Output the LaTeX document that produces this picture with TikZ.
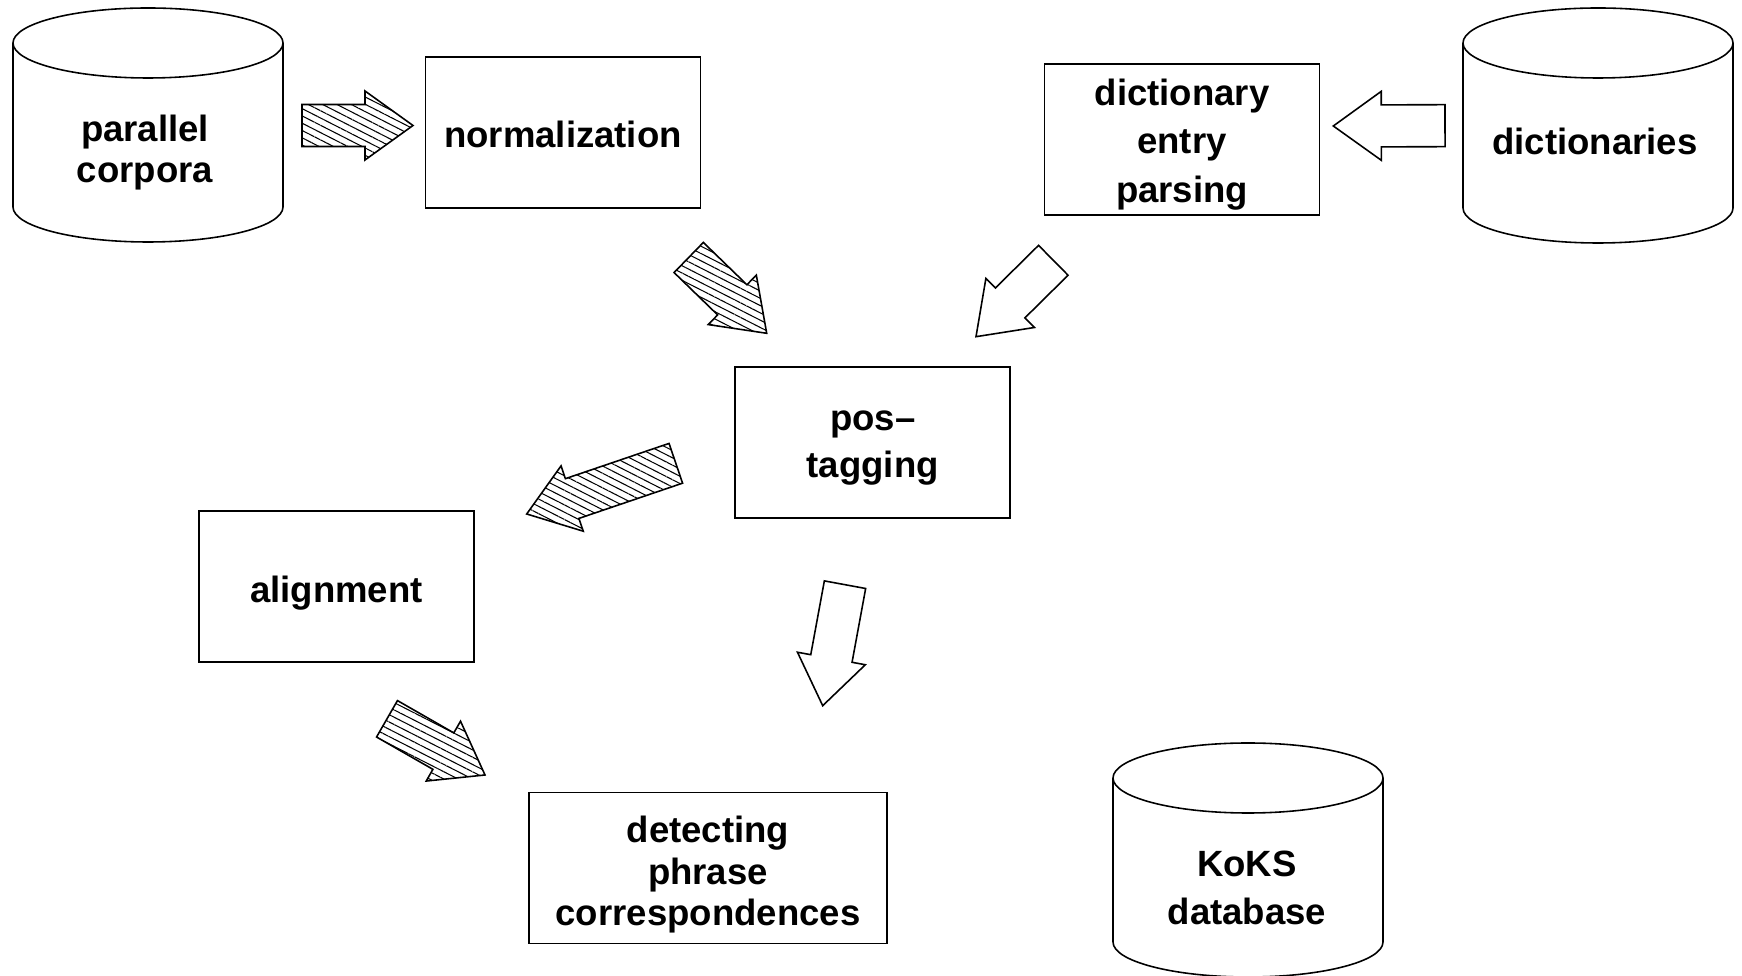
\documentclass[tikz,border=0pt]{standalone}
\usepackage{fontspec}
\setmainfont{Liberation Sans}
\usetikzlibrary{calc,patterns.meta}

\tikzset{
  stage/.style={draw, line width=0.45pt, minimum width=27.5mm, minimum height=15.1mm,
                inner sep=0pt},
  lbl/.style={align=center, inner sep=0pt},
  hatched/.style={draw, line width=0.45pt,
                  pattern={Lines[angle=-27,distance=0.65mm,line width=0.3pt]}},
  hollow/.style={draw, line width=0.45pt, fill=white},
}
\newcommand\bodyfont[1]{\fontsize{10.4pt}{#1}\selectfont\bfseries}

% data store: side lines from the top ellipse to the bottom arc
% #1 centre x, #2 top ellipse y, #3 bottom arc y, #4 half width (mm)
\newcommand\drum[4]{%
  \draw[line width=0.45pt] ({#1-#4*10},#2) -- ({#1-#4*10},#3)
     arc[start angle=180,end angle=360,x radius=#4mm,y radius=3.5mm]
     -- ({#1+#4*10},#2);
  \draw[line width=0.45pt] (#1,#2) ellipse[x radius=#4mm,y radius=3.5mm];
}

% block arrow from a tail midpoint to a tip
\newcommand\blockarrow[3]{%
  \coordinate (ba-h) at ($(#3)!4.8mm!(#2)$);
  \draw[#1] ($(#2)!2.1mm!90:(#3)$) -- ($(ba-h)!2.1mm!90:(#3)$)
    -- ($(ba-h)!3.45mm!90:(#3)$) -- (#3) -- ($(ba-h)!3.45mm!-90:(#3)$)
    -- ($(ba-h)!2.1mm!-90:(#3)$) -- ($(#2)!2.1mm!-90:(#3)$) -- cycle;
}

\begin{document}
\begin{tikzpicture}[x=0.1mm,y=-0.1mm]
\useasboundingbox (0,0) rectangle (1742,976);

% stores
\drum{148}{43}{207}{13.5}
\node[lbl, font=\bodyfont{11.7pt}] (corpora) at (145,152.5) {parallel\\corpora};
\drum{1598}{43}{208}{13.5}
\node[lbl, font=\bodyfont{12pt}] (dicts) at (1595,141) {dictionaries};
\drum{1248}{778}{942}{13.5}
\node[lbl, font=\bodyfont{13.8pt}] (koks) at (1247,888) {KoKS\\database};

% processing stages
\node[stage] (norm) at (563,132.5) {};
\node[lbl, font=\bodyfont{12pt}] (norm-t) at (563,134.7) {normalization};
\node[stage] (dep) at (1182,139.5) {};
\node[lbl, font=\bodyfont{13.9pt}] (dep-t) at (1182,144.5) {dictionary\\entry\\parsing};
\node[stage] (pos) at (872.75,442.5) {};
\node[lbl, font=\bodyfont{13.3pt}] (pos-t) at (872.75,448) {pos–\\tagging};
\node[stage] (align) at (336.5,586.5) {};
\node[lbl, font=\bodyfont{12pt}] (align-t) at (336.5,593) {alignment};
\node[stage, minimum width=35.8mm] (detect) at (708,868) {};
\node[lbl, font=\bodyfont{11.85pt}] (detect-t) at (708,874.7)
  {detecting\\phrase\\correspondences};

% arrow ends
\coordinate (a1s) at (302,125.5);   \coordinate (a1e) at (413,125.5);
\coordinate (a2s) at (688.7,257.5); \coordinate (a2e) at (766.7,333.3);
\coordinate (a3s) at (1053.3,260.3);\coordinate (a3e) at (976,336.7);
\coordinate (a4s) at (675.8,463.3); \coordinate (a4e) at (526.7,514);
\coordinate (a5s) at (845,584.7);   \coordinate (a5e) at (822.7,705.7);
\coordinate (a6s) at (387,718.8);   \coordinate (a6e) at (485,775);
\coordinate (a7s) at (1445,125.7);  \coordinate (a7e) at (1333.3,126);

\blockarrow{hatched}{a1s}{a1e}
\blockarrow{hatched}{a2s}{a2e}
\blockarrow{hollow}{a3s}{a3e}
\blockarrow{hatched}{a4s}{a4e}
\blockarrow{hollow}{a5s}{a5e}
\blockarrow{hatched}{a6s}{a6e}
\blockarrow{hollow}{a7s}{a7e}
\end{tikzpicture}
\end{document}
